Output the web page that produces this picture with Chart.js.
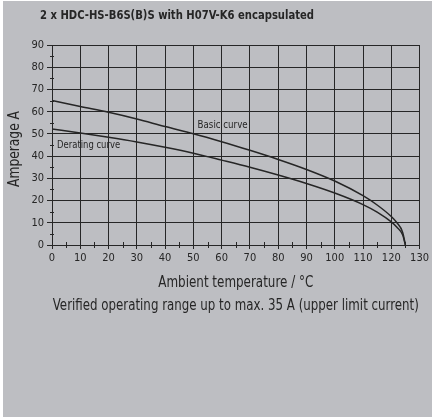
<!DOCTYPE html>
<html>
<head>
<meta charset="utf-8">
<script src="https://cdn.jsdelivr.net/npm/chart.js@4/dist/chart.umd.min.js"></script>
<style>
  html, body { margin: 0; padding: 0; background: #fff; }
  canvas { display: block; }
</style>
</head>
<body>
<canvas id="chart" width="432" height="417"></canvas>
<script>
const chartTitle = '2 x HDC-HS-B6S(B)S with H07V-K6 encapsulated';
const xTitle = 'Ambient temperature / °C';
const yTitle = 'Amperage A';
const footnote = 'Verified operating range up to max. 35 A (upper limit current)';

// ambient temperature (°C) and current (A) for each curve
const basicTemp = [0, 10, 20, 30, 40, 50, 60, 70, 80, 90, 100, 110, 115, 120, 122, 124, 125];
const basicAmps = [65, 62.3, 59.7, 56.7, 53.3, 50.1, 46.5, 42.6, 38.5, 34, 28.8, 22.2, 18, 12.8, 10, 5.8, 0];
const deratingTemp = [0, 10, 20, 30, 40, 50, 60, 70, 80, 90, 100, 110, 115, 120, 122, 124, 125];
const deratingAmps = [52.2, 50.4, 48.5, 46.4, 44, 41.3, 38.2, 35, 31.5, 27.7, 23.4, 18.2, 14.8, 10.4, 8, 4.6, 0];

const xTicks = [0, 10, 20, 30, 40, 50, 60, 70, 80, 90, 100, 110, 120, 130];
const yTicks = [0, 10, 20, 30, 40, 50, 60, 70, 80, 90];

const FONT = "'DejaVu Sans Condensed', 'Liberation Sans Narrow', sans-serif";
const INK = '#262626';
const BG = '#bdbec2';

const toPoints = (xs, ys) => xs.map((x, i) => ({ x: x, y: ys[i] }));

// text squeezed sideways to a given width, like a condensed face
function drawNarrow(ctx, text, cx, cy, width, font, angle) {
  ctx.save();
  ctx.font = font;
  ctx.textAlign = 'center';
  ctx.textBaseline = 'middle';
  ctx.translate(cx, cy);
  if (angle) ctx.rotate(angle);
  ctx.scale(width / ctx.measureText(text).width, 1);
  ctx.fillText(text, 0, 0);
  ctx.restore();
}

// gray panel, titles and the in-plot curve names
const decorations = {
  id: 'decorations',
  beforeDraw(chart) {
    const ctx = chart.ctx;
    ctx.save();
    ctx.fillStyle = BG;
    ctx.fillRect(3, 1, chart.width - 3, chart.height - 1);
    ctx.restore();
  },
  afterDraw(chart) {
    const ctx = chart.ctx;
    const xs = chart.scales.x, ys = chart.scales.y;
    const area = chart.chartArea;
    const mid = (area.left + area.right) / 2;
    ctx.save();
    ctx.fillStyle = INK;

    drawNarrow(ctx, chartTitle, 40 + 137, 16, 274, 'bold 13px ' + FONT);
    drawNarrow(ctx, xTitle, mid, 283, 155, '15px ' + FONT);
    drawNarrow(ctx, footnote, mid, 306, 366, '15px ' + FONT);
    drawNarrow(ctx, yTitle, 15, (area.top + area.bottom) / 2 + 4, 76, '15px ' + FONT, -Math.PI / 2);

    ctx.font = '11px ' + FONT;
    ctx.textAlign = 'left';
    ctx.textBaseline = 'middle';
    drawNarrow(ctx, 'Basic curve', xs.getPixelForValue(51.5) + 25, ys.getPixelForValue(54), 50, '11px ' + FONT);
    drawNarrow(ctx, 'Derating curve', xs.getPixelForValue(1.8) + 31.5, ys.getPixelForValue(45), 63, '11px ' + FONT);

    // short minor ticks crossing both axes at the 5s
    ctx.strokeStyle = INK;
    ctx.lineWidth = 1;
    ctx.beginPath();
    for (let v = 5; v < 130; v += 10) {
      const px = Math.round(xs.getPixelForValue(v)) + 0.5;
      ctx.moveTo(px, xs.top - 3);
      ctx.lineTo(px, xs.top + 3);
    }
    for (let v = 5; v < 90; v += 10) {
      const py = Math.round(ys.getPixelForValue(v)) + 0.5;
      ctx.moveTo(ys.right - 2, py);
      ctx.lineTo(ys.right + 2, py);
    }
    ctx.stroke();
    ctx.restore();
  }
};

new Chart(document.getElementById('chart'), {
  type: 'scatter',
  data: {
    datasets: [
      {
        label: 'Basic curve',
        data: toPoints(basicTemp, basicAmps),
        showLine: true,
        borderColor: INK,
        borderWidth: 1.5,
        pointRadius: 0,
        cubicInterpolationMode: 'monotone'
      },
      {
        label: 'Derating curve',
        data: toPoints(deratingTemp, deratingAmps),
        showLine: true,
        borderColor: INK,
        borderWidth: 1.5,
        pointRadius: 0,
        cubicInterpolationMode: 'monotone'
      }
    ]
  },
  options: {
    responsive: false,
    animation: false,
    layout: { padding: { left: 0, right: 9, top: 45, bottom: 122 } },
    plugins: {
      legend: { display: false },
      tooltip: { enabled: false }
    },
    scales: {
      x: {
        type: 'linear',
        min: 0,
        max: 130,
        afterBuildTicks(scale) { scale.ticks = xTicks.map(v => ({ value: v })); },
        afterFit(scale) { scale.height = 50; },
        grid: { color: INK, tickColor: INK, tickLength: 4, lineWidth: 1 },
        border: { color: INK, width: 1 },
        ticks: {
          color: INK,
          padding: 3,
          maxRotation: 0,
          autoSkip: false,
          font: { family: FONT, size: 11 }
        }
      },
      y: {
        type: 'linear',
        min: 0,
        max: 90,
        afterBuildTicks(scale) { scale.ticks = yTicks.map(v => ({ value: v })); },
        afterFit(scale) { scale.width = 52; },
        grid: { color: INK, tickColor: INK, tickLength: 5, lineWidth: 1 },
        border: { color: INK, width: 1 },
        ticks: {
          color: INK,
          padding: 3,
          autoSkip: false,
          font: { family: FONT, size: 11 }
        }
      }
    }
  },
  plugins: [decorations]
});
</script>
</body>
</html>
